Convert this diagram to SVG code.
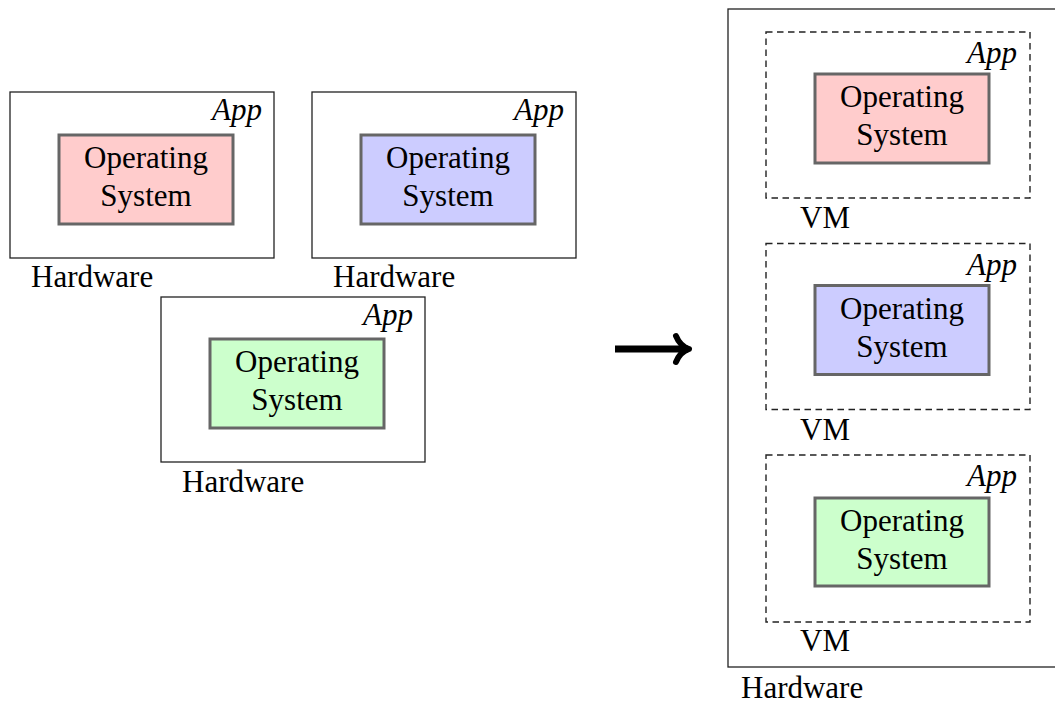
<svg xmlns="http://www.w3.org/2000/svg" width="1055" height="702" viewBox="0 0 1055 702">
<style>
.hw{fill:#fff;stroke:#222;stroke-width:1.3}
.vm{fill:none;stroke:#222;stroke-width:1.4;stroke-dasharray:6.5 4.5}
.os{stroke:#666;stroke-width:3}
.red{fill:#ffcccc}.blue{fill:#ccccff}.green{fill:#ccffcc}
text{font-family:"Liberation Serif","Times New Roman",serif;font-size:31px;fill:#000}
.app{font-style:italic;text-anchor:end}
.c{text-anchor:middle}
</style>
<rect width="1055" height="702" fill="#fff"/>
<g id="machine1">
<rect class="hw" x="10" y="92" width="264" height="166"/>
<text class="app" x="262" y="120">App</text>
<rect class="os red" x="59" y="135" width="174" height="89"/>
<text class="c" x="146" y="168">Operating</text>
<text class="c" x="146" y="206">System</text>
<text x="31" y="287">Hardware</text>
</g>
<g id="machine2">
<rect class="hw" x="312" y="92" width="264" height="166"/>
<text class="app" x="564" y="120">App</text>
<rect class="os blue" x="361" y="135" width="174" height="89"/>
<text class="c" x="448" y="168">Operating</text>
<text class="c" x="448" y="206">System</text>
<text x="333" y="287">Hardware</text>
</g>
<g id="machine3">
<rect class="hw" x="161" y="297" width="264" height="165"/>
<text class="app" x="413" y="325">App</text>
<rect class="os green" x="210" y="339" width="174" height="89"/>
<text class="c" x="297" y="372">Operating</text>
<text class="c" x="297" y="410">System</text>
<text x="182" y="492">Hardware</text>
</g>
<g id="connectors">
<path d="M615 349 H688" stroke="#000" stroke-width="7" fill="none"/>
<path d="M676 336 Q680 346 689 349 Q680 352 676 362" stroke="#000" stroke-width="6" stroke-linecap="round" stroke-linejoin="round" fill="none"/>
</g>
<g id="host">
<rect class="hw" x="728" y="9" width="340" height="658" stroke="#444" stroke-width="1.5"/>
<text x="741" y="698">Hardware</text>
</g>
<g id="vm1">
<rect class="vm" x="766" y="32" width="264" height="166"/>
<text class="app" x="1017" y="63">App</text>
<rect class="os red" x="815" y="74" width="174" height="89"/>
<text class="c" x="902" y="107">Operating</text>
<text class="c" x="902" y="145">System</text>
<text x="800" y="228">VM</text>
</g>
<g id="vm2">
<rect class="vm" x="766" y="243.5" width="264" height="166"/>
<text class="app" x="1017" y="274.5">App</text>
<rect class="os blue" x="815" y="285.5" width="174" height="89"/>
<text class="c" x="902" y="318.5">Operating</text>
<text class="c" x="902" y="356.5">System</text>
<text x="800" y="439.5">VM</text>
</g>
<g id="vm3">
<rect class="vm" x="766" y="455" width="264" height="167"/>
<text class="app" x="1017" y="486">App</text>
<rect class="os green" x="815" y="498" width="174" height="88"/>
<text class="c" x="902" y="531">Operating</text>
<text class="c" x="902" y="569">System</text>
<text x="800" y="651">VM</text>
</g>
</svg>
